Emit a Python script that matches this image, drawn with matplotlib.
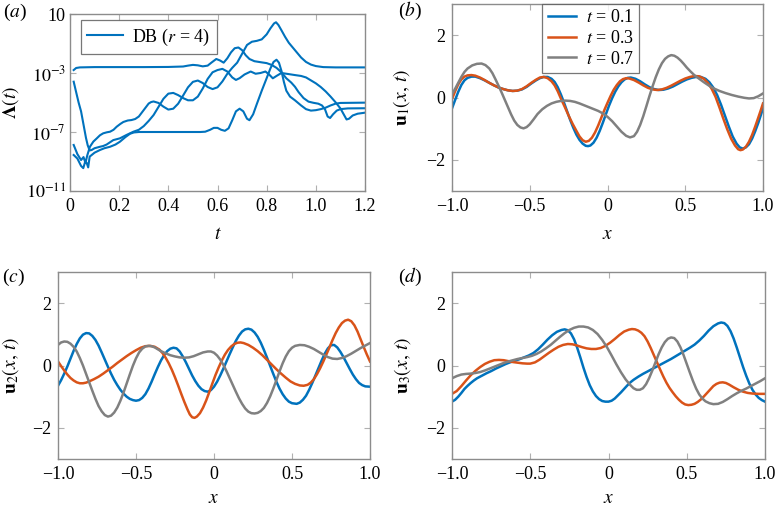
import matplotlib
matplotlib.use("Agg")
import matplotlib.pyplot as plt
from matplotlib.lines import Line2D
import numpy as np

plt.rcParams['font.family'] = ['Liberation Serif', 'DejaVu Serif']
plt.rcParams['mathtext.fontset'] = 'stix'
plt.rcParams['axes.unicode_minus'] = True

BLUE = '#0072BD'
ORANGE = '#D95319'
GRAY = '#808080'

# ---------------- panel (a): log10 Lambda(t), four curves ----------------
tA = [0.015, 0.025, 0.04, 0.1, 0.2, 0.3, 0.4, 0.46, 0.48, 0.50, 0.52, 0.54, 0.56, 0.575, 0.595, 0.61,
      0.625, 0.64, 0.655, 0.67, 0.685, 0.70, 0.715, 0.73, 0.75, 0.78, 0.80, 0.82, 0.84, 0.86, 0.88,
      0.90, 0.915, 0.93, 0.95, 0.97, 0.99, 1.01, 1.025, 1.037, 1.048, 1.058, 1.07, 1.085, 1.1, 1.13, 1.2]
logA = [-2.80, -2.66, -2.62, -2.60, -2.60, -2.60, -2.59, -2.56, -2.5, -2.45, -2.48, -2.55, -2.5, -2.3,
        -2.05, -2.15, -2.3, -2.0, -1.6, -1.32, -1.27, -1.45, -1.8, -2.05, -2.2, -2.28, -2.33, -2.45,
        -2.65, -2.95, -3.36, -3.65, -3.93, -4.3, -4.7, -4.94, -5.02, -5.08, -5.2, -5.45, -5.95, -6.05,
        -5.8, -5.55, -5.45, -5.4, -5.39]

tU = [0.015, 0.03, 0.045, 0.055, 0.063, 0.07, 0.081, 0.095, 0.109, 0.122, 0.135, 0.15, 0.163, 0.177,
      0.19, 0.205, 0.217, 0.235, 0.25, 0.265, 0.28, 0.30, 0.32, 0.33, 0.34, 0.36, 0.38, 0.40, 0.42,
      0.44, 0.46, 0.48, 0.50, 0.52, 0.54, 0.56, 0.58, 0.60, 0.62, 0.64, 0.66, 0.68, 0.70, 0.72, 0.74,
      0.76, 0.78, 0.80, 0.815, 0.83, 0.838, 0.848, 0.86, 0.875, 0.89, 0.905, 0.92, 0.94, 0.96, 0.98,
      1.0, 1.03, 1.08, 1.2]
logU = [-7.88, -8.5, -8.9, -8.7, -9.1, -8.6, -8.0, -7.65, -7.43, -7.22, -7.09, -7.02, -6.98, -6.85,
        -6.64, -6.45, -6.32, -6.22, -6.19, -6.12, -5.95, -5.51, -5.07, -4.97, -4.93, -5.03, -5.28,
        -5.48, -5.42, -5.08, -4.53, -3.97, -3.6, -3.51, -3.68, -3.95, -4.09, -3.97, -3.57, -3.05,
        -2.65, -2.3, -1.7, -1.1, -0.88, -0.82, -0.72, -0.38, 0.02, 0.36, 0.44, 0.25, -0.1, -0.55,
        -0.95, -1.25, -1.55, -1.95, -2.25, -2.43, -2.53, -2.6, -2.62, -2.62]

tM = [0.015, 0.025, 0.035, 0.045, 0.055, 0.065, 0.072, 0.08, 0.088, 0.10, 0.122, 0.135, 0.149, 0.176,
      0.203, 0.23, 0.258, 0.28, 0.30, 0.32, 0.34, 0.36, 0.38, 0.40, 0.42, 0.44, 0.46, 0.48, 0.50,
      0.52, 0.54, 0.56, 0.58, 0.60, 0.62, 0.64, 0.66, 0.675, 0.69, 0.71, 0.735, 0.755, 0.775, 0.795,
      0.81, 0.825, 0.84, 0.86, 0.88, 0.915, 0.94, 0.96, 0.98, 1.0, 1.02, 1.04, 1.06, 1.08, 1.10,
      1.115, 1.125, 1.135, 1.15, 1.17, 1.2]
logM = [-3.59, -4.3, -5.0, -5.6, -6.5, -7.4, -7.9, -8.25, -8.22, -8.1, -8.0, -7.95, -7.85, -7.55,
        -7.43, -7.2, -6.98, -6.85, -6.6, -6.25, -5.85, -5.3, -4.75, -4.4, -4.35, -4.5, -4.7, -4.85,
        -4.85, -4.6, -4.05, -3.4, -2.95, -2.8, -2.72, -2.9, -3.3, -3.47, -3.35, -3.1, -2.9, -3.05,
        -3.0, -2.9, -3.1, -3.36, -3.2, -3.0, -3.05, -3.14, -3.2, -3.3, -3.5, -3.7, -3.95, -4.25,
        -4.6, -4.98, -5.4, -5.85, -6.15, -6.1, -5.88, -5.76, -5.69]

tD = [0.015, 0.03, 0.045, 0.054, 0.062, 0.068, 0.074, 0.08, 0.10, 0.122, 0.14, 0.163, 0.185, 0.203,
      0.225, 0.244, 0.26, 0.28, 0.35, 0.45, 0.53, 0.55, 0.57, 0.585, 0.60, 0.615, 0.63, 0.645, 0.66,
      0.675, 0.69, 0.705, 0.72, 0.73, 0.745, 0.76, 0.78, 0.80, 0.815, 0.828, 0.84, 0.85, 0.86, 0.87,
      0.88, 0.895, 0.915, 0.94, 0.96, 0.98, 1.0, 1.02, 1.04, 1.06, 1.08, 1.1, 1.2]
logD = [-8.56, -8.8, -9.3, -9.45, -9.0, -9.1, -9.4, -8.67, -8.4, -8.22, -8.1, -8.0, -7.85, -7.66,
        -7.35, -7.12, -7.03, -7.0, -7.0, -7.0, -7.0, -6.98, -6.85, -6.72, -6.72, -6.85, -6.92, -6.75,
        -6.2, -5.6, -5.42, -5.6, -6.1, -6.2, -5.8, -5.1, -4.2, -3.35, -2.7, -2.25, -2.1, -2.3, -2.85,
        -3.6, -4.2, -4.6, -4.85, -5.2, -5.45, -5.55, -5.52, -5.45, -5.35, -5.2, -5.08, -5.03, -5.01]

# ---------------- panel (b): u1(x,t) ----------------
xb_01 = [-1.0, -0.98, -0.96, -0.94, -0.92, -0.90, -0.875, -0.85, -0.82, -0.79, -0.76, -0.73, -0.70,
         -0.67, -0.64, -0.61, -0.58, -0.55, -0.52, -0.49, -0.46, -0.435, -0.41, -0.385, -0.36, -0.34,
         -0.32, -0.30, -0.28, -0.26, -0.24, -0.22, -0.20, -0.18, -0.16, -0.14, -0.125, -0.11, -0.09,
         -0.07, -0.05, -0.03, -0.01, 0.01, 0.03, 0.05, 0.07, 0.09, 0.11, 0.13, 0.15, 0.18, 0.21, 0.24,
         0.27, 0.30, 0.33, 0.36, 0.39, 0.42, 0.45, 0.48, 0.51, 0.54, 0.57, 0.60, 0.63, 0.655, 0.68,
         0.705, 0.73, 0.755, 0.78, 0.805, 0.83, 0.85, 0.87, 0.89, 0.91, 0.93, 0.95, 0.97, 0.985, 1.0]
ub_01 = [-0.35, -0.08, 0.18, 0.40, 0.55, 0.63, 0.67, 0.67, 0.62, 0.55, 0.47, 0.39, 0.32,
         0.27, 0.23, 0.21, 0.22, 0.26, 0.34, 0.45, 0.55, 0.62, 0.66, 0.66, 0.60, 0.50,
         0.33, 0.10, -0.16, -0.44, -0.72, -0.97, -1.19, -1.36, -1.48, -1.55, -1.56, -1.54, -1.45,
         -1.29, -1.07, -0.81, -0.53, -0.26, -0.02, 0.19, 0.36, 0.49, 0.58, 0.63, 0.64, 0.60, 0.52, 0.42,
         0.33, 0.27, 0.24, 0.25, 0.29, 0.35, 0.43, 0.51, 0.58, 0.63, 0.66, 0.66, 0.60, 0.49, 0.32,
         0.08, -0.23, -0.58, -0.93, -1.25, -1.48, -1.60, -1.64, -1.60, -1.50, -1.32, -1.08, -0.81, -0.58, -0.35]
xb_03 = [-1.0, -0.98, -0.96, -0.94, -0.92, -0.90, -0.875, -0.85, -0.82, -0.79, -0.76, -0.73, -0.70,
         -0.67, -0.64, -0.61, -0.58, -0.55, -0.52, -0.49, -0.46, -0.435, -0.41, -0.385, -0.36, -0.34,
         -0.32, -0.30, -0.275, -0.25, -0.225, -0.20, -0.18, -0.16, -0.14, -0.12, -0.10, -0.08, -0.06,
         -0.04, -0.02, 0.0, 0.02, 0.04, 0.06, 0.08, 0.10, 0.12, 0.14, 0.17, 0.20, 0.23, 0.26, 0.29,
         0.32, 0.35, 0.38, 0.41, 0.44, 0.47, 0.50, 0.53, 0.56, 0.59, 0.62, 0.645, 0.67, 0.695, 0.72,
         0.745, 0.77, 0.795, 0.82, 0.84, 0.855, 0.87, 0.89, 0.91, 0.93, 0.95, 0.97, 0.985, 1.0]
ub_03 = [-0.05, 0.20, 0.42, 0.58, 0.67, 0.71, 0.72, 0.70, 0.64, 0.56, 0.47, 0.39, 0.32,
         0.27, 0.23, 0.21, 0.22, 0.27, 0.36, 0.47, 0.57, 0.64, 0.66, 0.62, 0.52, 0.39,
         0.20, -0.03, -0.30, -0.58, -0.84, -1.07, -1.25, -1.37, -1.42, -1.39, -1.29, -1.12, -0.90,
         -0.65, -0.40, -0.17, 0.05, 0.25, 0.40, 0.52, 0.59, 0.62, 0.61, 0.56, 0.48, 0.39, 0.31, 0.26,
         0.24, 0.26, 0.31, 0.38, 0.46, 0.54, 0.61, 0.66, 0.69, 0.68, 0.60, 0.47, 0.28, 0.02, -0.32,
         -0.68, -1.02, -1.32, -1.54, -1.66, -1.69, -1.67, -1.58, -1.42, -1.20, -0.93, -0.64, -0.42, -0.19]
xb_07 = [-1.0, -0.98, -0.96, -0.94, -0.92, -0.90, -0.87, -0.84, -0.81, -0.785, -0.76, -0.74, -0.72,
         -0.70, -0.68, -0.66, -0.64, -0.62, -0.60, -0.58, -0.56, -0.54, -0.52, -0.50, -0.475, -0.45,
         -0.42, -0.39, -0.36, -0.33, -0.30, -0.27, -0.24, -0.21, -0.18, -0.15, -0.12, -0.09, -0.06,
         -0.03, 0.0, 0.03, 0.06, 0.09, 0.12, 0.145, 0.17, 0.19, 0.21, 0.23, 0.25, 0.27, 0.29, 0.31,
         0.33, 0.35, 0.37, 0.39, 0.41, 0.43, 0.45, 0.47, 0.49, 0.51, 0.535, 0.56, 0.59, 0.62, 0.65,
         0.68, 0.72, 0.76, 0.80, 0.84, 0.88, 0.91, 0.94, 0.97, 1.0]
ub_07 = [0.10, 0.28, 0.47, 0.66, 0.82, 0.93, 1.03, 1.08, 1.09, 1.04, 0.93, 0.78, 0.58,
         0.37, 0.15, -0.08, -0.31, -0.54, -0.74, -0.88, -0.96, -0.99, -0.95, -0.86, -0.70, -0.53,
         -0.38, -0.27, -0.19, -0.14, -0.11, -0.10, -0.11, -0.14, -0.19, -0.25, -0.31, -0.37, -0.43,
         -0.51, -0.62, -0.76, -0.93, -1.10, -1.23, -1.28, -1.24, -1.10, -0.88, -0.60, -0.28, 0.05, 0.36,
         0.65, 0.90, 1.10, 1.24, 1.32, 1.36, 1.34, 1.28, 1.19, 1.08, 0.96, 0.83, 0.71, 0.60, 0.49, 0.39,
         0.30, 0.21, 0.14, 0.08, 0.03, -0.01, -0.03, -0.02, 0.04, 0.13]

# ---------------- panel (c): u2(x,t) ----------------
xc_01 = [-1.0, -0.98, -0.96, -0.94, -0.92, -0.90, -0.88, -0.86, -0.84, -0.82, -0.80, -0.78, -0.76,
         -0.74, -0.72, -0.70, -0.68, -0.66, -0.64, -0.62, -0.60, -0.58, -0.56, -0.54, -0.52, -0.50,
         -0.48, -0.46, -0.44, -0.42, -0.40, -0.38, -0.36, -0.34, -0.32, -0.30, -0.28, -0.26, -0.24,
         -0.22, -0.20, -0.18, -0.16, -0.14, -0.12, -0.10, -0.08, -0.06, -0.04, -0.02, 0.0, 0.02, 0.04,
         0.06, 0.08, 0.10, 0.12, 0.14, 0.16, 0.18, 0.20, 0.22, 0.24, 0.26, 0.28, 0.30, 0.32, 0.34, 0.36,
         0.38, 0.40, 0.42, 0.44, 0.46, 0.48, 0.50, 0.53, 0.55, 0.57, 0.59, 0.61, 0.63, 0.65, 0.67, 0.69,
         0.71, 0.73, 0.75, 0.77, 0.79, 0.81, 0.83, 0.85, 0.87, 0.89, 0.91, 0.93, 0.95, 0.97, 1.0]
uc_01 = [-0.65, -0.47, -0.26, -0.03, 0.22, 0.47, 0.69, 0.87, 0.99, 1.04, 1.03, 0.95, 0.82,
         0.64, 0.42, 0.19, -0.04, -0.26, -0.46, -0.63, -0.78, -0.90, -1.00, -1.07, -1.11, -1.13,
         -1.11, -1.04, -0.92, -0.74, -0.52, -0.28, -0.05, 0.16, 0.33, 0.46, 0.54, 0.57, 0.55,
         0.45, 0.29, 0.10, -0.11, -0.32, -0.50, -0.65, -0.76, -0.82, -0.84, -0.79, -0.68, -0.52, -0.32,
         -0.10, 0.13, 0.36, 0.58, 0.79, 0.96, 1.09, 1.16, 1.18, 1.15, 1.06, 0.92, 0.73, 0.50, 0.25, -0.01,
         -0.27, -0.52, -0.74, -0.92, -1.06, -1.16, -1.21, -1.23, -1.19, -1.10, -0.97, -0.78, -0.56, -0.32,
         -0.08, 0.16, 0.38, 0.55, 0.65, 0.66, 0.58, 0.44, 0.27, 0.08, -0.11, -0.29, -0.44, -0.56, -0.63,
         -0.67, -0.68]
xc_03 = [-1.0, -0.98, -0.96, -0.94, -0.92, -0.90, -0.88, -0.86, -0.84, -0.82, -0.80, -0.77, -0.74,
         -0.71, -0.68, -0.65, -0.62, -0.59, -0.56, -0.53, -0.50, -0.47, -0.44, -0.41, -0.38, -0.35,
         -0.33, -0.31, -0.29, -0.27, -0.25, -0.23, -0.21, -0.19, -0.17, -0.155, -0.14, -0.125, -0.11,
         -0.09, -0.07, -0.05, -0.03, -0.01, 0.01, 0.03, 0.05, 0.07, 0.09, 0.11, 0.13, 0.15, 0.17, 0.19,
         0.22, 0.25, 0.28, 0.31, 0.34, 0.37, 0.40, 0.43, 0.46, 0.49, 0.52, 0.55, 0.575, 0.60, 0.62,
         0.64, 0.66, 0.68, 0.70, 0.72, 0.74, 0.76, 0.78, 0.80, 0.82, 0.84, 0.86, 0.88, 0.90, 0.92,
         0.94, 0.96, 0.98, 1.0]
uc_03 = [0.13, -0.02, -0.16, -0.29, -0.40, -0.48, -0.54, -0.57, -0.57, -0.55, -0.51, -0.44, -0.36,
         -0.26, -0.15, -0.04, 0.08, 0.19, 0.30, 0.40, 0.49, 0.57, 0.62, 0.63, 0.60, 0.51,
         0.40, 0.25, 0.07, -0.14, -0.38, -0.64, -0.91, -1.17, -1.41, -1.57, -1.66, -1.68, -1.64,
         -1.53, -1.35, -1.12, -0.85, -0.57, -0.30, -0.06, 0.16, 0.35, 0.50, 0.61, 0.69, 0.73, 0.74, 0.72,
         0.66, 0.57, 0.46, 0.33, 0.18, 0.03, -0.12, -0.26, -0.39, -0.51, -0.59, -0.64, -0.65, -0.62, -0.55,
         -0.44, -0.28, -0.09, 0.12, 0.35, 0.58, 0.82, 1.04, 1.22, 1.36, 1.44, 1.47, 1.42, 1.29, 1.09,
         0.84, 0.59, 0.35, 0.13]
xc_07 = [-1.0, -0.98, -0.96, -0.94, -0.92, -0.90, -0.88, -0.86, -0.84, -0.82, -0.80, -0.78, -0.76,
         -0.74, -0.72, -0.70, -0.68, -0.66, -0.64, -0.62, -0.60, -0.58, -0.56, -0.54, -0.52, -0.50,
         -0.48, -0.46, -0.44, -0.42, -0.40, -0.38, -0.36, -0.34, -0.31, -0.28, -0.25, -0.22, -0.19,
         -0.16, -0.13, -0.10, -0.07, -0.04, -0.02, 0.0, 0.02, 0.04, 0.06, 0.08, 0.10, 0.12, 0.14, 0.16,
         0.18, 0.20, 0.22, 0.24, 0.26, 0.28, 0.30, 0.32, 0.34, 0.36, 0.38, 0.40, 0.42, 0.44, 0.46, 0.48,
         0.50, 0.52, 0.55, 0.58, 0.61, 0.64, 0.67, 0.70, 0.73, 0.76, 0.79, 0.82, 0.85, 0.88, 0.91, 0.94,
         0.97, 1.0]
uc_07 = [0.66, 0.74, 0.77, 0.76, 0.70, 0.60, 0.45, 0.24, 0.0, -0.27, -0.54, -0.81, -1.07,
         -1.30, -1.47, -1.59, -1.64, -1.61, -1.51, -1.35, -1.13, -0.87, -0.58, -0.29, -0.01, 0.23,
         0.42, 0.54, 0.61, 0.63, 0.62, 0.58, 0.52, 0.46, 0.39, 0.33, 0.29, 0.26, 0.25,
         0.26, 0.30, 0.36, 0.42, 0.45, 0.45, 0.41, 0.32, 0.19, 0.02, -0.18, -0.40, -0.62, -0.84, -1.05,
         -1.23, -1.38, -1.48, -1.53, -1.54, -1.52, -1.46, -1.36, -1.20, -0.99, -0.74, -0.47, -0.19, 0.07,
         0.29, 0.46, 0.57, 0.63, 0.66, 0.65, 0.60, 0.53, 0.44, 0.35, 0.27, 0.22, 0.21, 0.24, 0.30, 0.38,
         0.47, 0.56, 0.64, 0.72]

# ---------------- panel (d): u3(x,t) ----------------
xd_01 = [-1.0, -0.98, -0.96, -0.94, -0.92, -0.90, -0.88, -0.86, -0.84, -0.81, -0.78, -0.75, -0.72,
         -0.69, -0.66, -0.63, -0.60, -0.57, -0.54, -0.51, -0.48, -0.45, -0.42, -0.39, -0.36, -0.33,
         -0.30, -0.28, -0.26, -0.24, -0.22, -0.20, -0.18, -0.16, -0.14, -0.12, -0.10, -0.08, -0.06,
         -0.04, -0.02, 0.0, 0.02, 0.04, 0.06, 0.08, 0.10, 0.12, 0.14, 0.16, 0.19, 0.22, 0.25, 0.28,
         0.31, 0.34, 0.37, 0.40, 0.43, 0.46, 0.49, 0.52, 0.55, 0.58, 0.61, 0.64, 0.67, 0.70, 0.72,
         0.74, 0.76, 0.78, 0.80, 0.82, 0.84, 0.86, 0.88, 0.90, 0.92, 0.94, 0.96, 0.98, 1.0]
ud_01 = [-1.16, -1.10, -1.0, -0.88, -0.75, -0.65, -0.56, -0.48, -0.41, -0.33, -0.25, -0.18, -0.10,
         -0.03, 0.04, 0.10, 0.15, 0.20, 0.26, 0.32, 0.40, 0.52, 0.67, 0.83, 0.97, 1.08,
         1.14, 1.16, 1.13, 1.03, 0.84, 0.57, 0.26, -0.07, -0.37, -0.63, -0.83, -0.98, -1.08,
         -1.14, -1.16, -1.16, -1.13, -1.06, -0.96, -0.86, -0.75, -0.64, -0.54, -0.46, -0.36, -0.27, -0.19,
         -0.11, -0.03, 0.05, 0.13, 0.21, 0.30, 0.39, 0.48, 0.57, 0.67, 0.80, 0.95, 1.12, 1.26, 1.35, 1.38,
         1.36, 1.27, 1.10, 0.86, 0.57, 0.26, -0.05, -0.33, -0.58, -0.78, -0.93, -1.04, -1.11, -1.16]
xd_03 = [-1.0, -0.97, -0.94, -0.91, -0.88, -0.85, -0.82, -0.79, -0.76, -0.73, -0.70, -0.67, -0.64,
         -0.61, -0.58, -0.55, -0.52, -0.50, -0.47, -0.44, -0.41, -0.38, -0.35, -0.32, -0.29, -0.26,
         -0.23, -0.20, -0.17, -0.14, -0.11, -0.08, -0.05, -0.02, 0.01, 0.04, 0.07, 0.10, 0.13, 0.15,
         0.17, 0.19, 0.21, 0.23, 0.25, 0.27, 0.29, 0.31, 0.33, 0.35, 0.37, 0.39, 0.41, 0.43, 0.45, 0.47,
         0.49, 0.51, 0.53, 0.55, 0.57, 0.59, 0.61, 0.63, 0.65, 0.67, 0.69, 0.71, 0.73, 0.75, 0.77, 0.80,
         0.83, 0.86, 0.89, 0.92, 0.96, 1.0]
ud_03 = [-0.91, -0.82, -0.66, -0.48, -0.31, -0.17, -0.05, 0.05, 0.12, 0.17, 0.18, 0.17, 0.14,
         0.11, 0.09, 0.07, 0.06, 0.06, 0.10, 0.19, 0.30, 0.41, 0.51, 0.60, 0.66, 0.69,
         0.68, 0.64, 0.59, 0.55, 0.53, 0.53, 0.56, 0.63, 0.73, 0.85, 0.98, 1.09, 1.15, 1.17,
         1.16, 1.12, 1.05, 0.94, 0.77, 0.56, 0.33, 0.10, -0.13, -0.35, -0.55, -0.72, -0.86, -0.99, -1.10,
         -1.19, -1.25, -1.27, -1.26, -1.23, -1.17, -1.09, -0.99, -0.88, -0.77, -0.66, -0.59, -0.55, -0.54,
         -0.56, -0.61, -0.70, -0.78, -0.84, -0.88, -0.90, -0.91, -0.91]
xd_07 = [-1.0, -0.97, -0.94, -0.91, -0.88, -0.85, -0.82, -0.79, -0.76, -0.73, -0.70, -0.67, -0.64,
         -0.61, -0.58, -0.55, -0.52, -0.49, -0.46, -0.43, -0.40, -0.37, -0.34, -0.31, -0.28, -0.25,
         -0.22, -0.19, -0.16, -0.13, -0.10, -0.07, -0.04, -0.01, 0.02, 0.05, 0.08, 0.11, 0.14, 0.16,
         0.18, 0.20, 0.22, 0.24, 0.26, 0.28, 0.30, 0.32, 0.34, 0.36, 0.38, 0.40, 0.42, 0.44, 0.46, 0.48,
         0.50, 0.52, 0.54, 0.56, 0.58, 0.60, 0.62, 0.645, 0.67, 0.70, 0.73, 0.76, 0.79, 0.82, 0.85, 0.88,
         0.91, 0.94, 0.97, 1.0]
ud_07 = [-0.41, -0.34, -0.29, -0.27, -0.26, -0.24, -0.21, -0.16, -0.10, -0.04, 0.02, 0.08, 0.13,
         0.17, 0.21, 0.24, 0.27, 0.31, 0.37, 0.45, 0.55, 0.66, 0.79, 0.92, 1.04, 1.14,
         1.21, 1.25, 1.25, 1.22, 1.14, 1.01, 0.82, 0.59, 0.32, 0.04, -0.22, -0.45, -0.63, -0.73,
         -0.78, -0.78, -0.73, -0.60, -0.40, -0.16, 0.10, 0.36, 0.58, 0.75, 0.86, 0.90, 0.88, 0.77, 0.58,
         0.33, 0.05, -0.23, -0.50, -0.74, -0.93, -1.06, -1.15, -1.21, -1.24, -1.23, -1.17, -1.08, -0.98,
         -0.89, -0.81, -0.74, -0.66, -0.58, -0.50, -0.41]

legend_labels = ['$t$ = 0.1', '$t$ = 0.3', '$t$ = 0.7']
colors = [BLUE, ORANGE, GRAY]

W, H = 776, 509
fig = plt.figure(figsize=(W / 100, H / 100), dpi=100)


def box(l, t, r, b):
    return [l / W, 1 - b / H, (r - l) / W, (b - t) / H]


FS = 13
LFS = 14
SPINE = '#8c8c8c'
TICKC = '#b0b0b0'


def style(ax):
    for s in ax.spines.values():
        s.set_color(SPINE)
        s.set_linewidth(1.0)
    ax.tick_params(direction='in', length=4, width=0.8, color=TICKC, labelsize=FS,
                   top=True, right=True, pad=5, labelcolor='black')
    ax.tick_params(which='minor', length=0)


# ---- (a)
axa = fig.add_axes(box(70, 14, 365, 191))
for tt, ll in [(tA, logA), (tU, logU), (tM, logM), (tD, logD)]:
    axa.plot(tt, 10.0 ** np.array(ll), color=BLUE, lw=1.5, solid_joinstyle='round')
axa.set_yscale('log')
axa.set_xlim(0, 1.2)
axa.set_ylim(1e-11, 1e1)
axa.set_yticks([1e-11, 1e-7, 1e-3, 1e1])
axa.set_yticklabels(['$10^{-11}$', '$10^{-7}$', '$10^{-3}$', '10'])
axa.set_xticks([0, 0.2, 0.4, 0.6, 0.8, 1.0, 1.2])
axa.set_xticklabels(['0', '0.2', '0.4', '0.6', '0.8', '1.0', '1.2'])
style(axa)
axa.tick_params(axis='y', pad=3)
axa.set_xlabel('$t$', fontsize=LFS, labelpad=8)
axa.set_ylabel(r'$\mathbf{\Lambda}(t)$', fontsize=LFS, labelpad=3)
leg = axa.legend([Line2D([], [], color=BLUE, lw=1.5)], ['DB ($r$ = 4)'], loc='upper left',
                 bbox_to_anchor=(0.025, 0.985), fontsize=FS, frameon=True, fancybox=False,
                 handlelength=2.0, handletextpad=0.5, borderpad=0.35, borderaxespad=0.2)
leg.get_frame().set_edgecolor('#555555')
leg.get_frame().set_linewidth(0.9)

# ---- (b), (c), (d)
panels = [
    (box(452, 4, 763, 191), [(xb_01, ub_01), (xb_03, ub_03), (xb_07, ub_07)], r'$\mathbf{u}_1(x,\,t)$', 10, 8),
    (box(58, 272, 370, 459), [(xc_01, uc_01), (xc_03, uc_03), (xc_07, uc_07)], r'$\mathbf{u}_2(x,\,t)$', 8, 5),
    (box(452, 272, 765, 459), [(xd_01, ud_01), (xd_03, ud_03), (xd_07, ud_07)], r'$\mathbf{u}_3(x,\,t)$', 9, 5),
]
axes = []
for rect, series, ylab, ypad, xpad in panels:
    ax = fig.add_axes(rect)
    for (xx, yy), c, lab in zip(series, colors, legend_labels):
        ax.plot(xx, yy, color=c, lw=1.8, label=lab, solid_joinstyle='round')
    ax.set_xlim(-1, 1)
    ax.set_ylim(-3, 3)
    ax.set_xticks([-1, -0.5, 0, 0.5, 1])
    ax.set_xticklabels(['\u22121.0', '\u22120.5', '0', '0.5', '1.0'])
    ax.set_yticks([-2, 0, 2])
    ax.set_yticklabels(['\u22122', '0', '2'])
    style(ax)
    ax.set_xlabel('$x$', fontsize=LFS, labelpad=xpad)
    ax.set_ylabel(ylab, fontsize=LFS, labelpad=ypad)
    axes.append(ax)

legb = axes[0].legend(loc='upper left', bbox_to_anchor=(0.29, 1.0), fontsize=FS, frameon=True,
                      fancybox=False, handlelength=1.6, handletextpad=0.5, borderpad=0.3,
                      labelspacing=0.2, borderaxespad=0.0)
legb.get_frame().set_edgecolor('#555555')
legb.get_frame().set_linewidth(0.9)

# panel letters
for (px, py), letter in [((3, 12), 'a'), ((398, 11), 'b'), ((2, 277), 'c'), ((398, 277), 'd')]:
    fig.text(px / W, 1 - py / H, '(' + '$' + letter + '$' + ')', fontsize=LFS, va='center', ha='left')

fig.savefig('out.png', dpi=100)
